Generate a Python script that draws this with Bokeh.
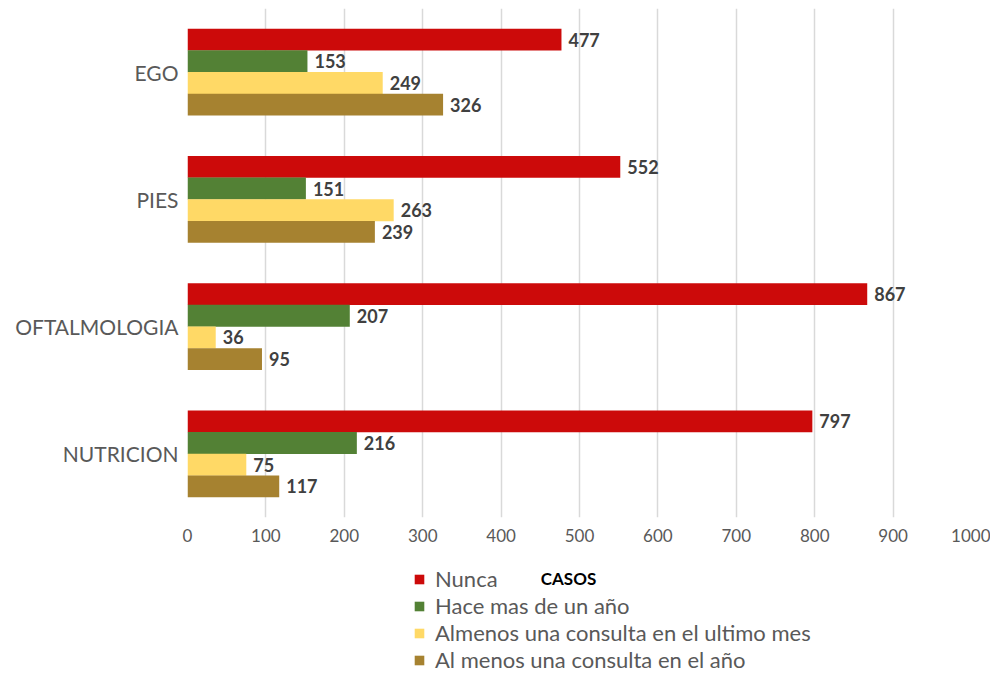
from bokeh.plotting import figure
from bokeh.models import Range1d, FactorRange, Legend, LegendItem, Label
from bokeh.layouts import column
from bokeh.transform import dodge
from bokeh.core.properties import value
from bokeh.embed import file_html
from bokeh.resources import INLINE

# ---- data ----
categories = ["NUTRICION", "OFTALMOLOGIA", "PIES", "EGO"]  # bottom -> top
series_names = ["Nunca", "Hace mas de un año",
                "Almenos una consulta en el ultimo mes",
                "Al menos una consulta en el año"]
nunca = [797, 867, 552, 477]
hace_mas = [216, 207, 151, 153]
ultimo_mes = [75, 36, 263, 249]
en_el_ano = [117, 95, 239, 326]
x_ticks = [0, 100, 200, 300, 400, 500, 600, 700, 800, 900, 1000]
x_title = "CASOS"

colors = ["#CC0A0A", "#538135", "#FFD966", "#A68230"]
offsets = [0.255, 0.085, -0.085, -0.255]
FONT = "Lato"

p = figure(width=990, height=560, output_backend="svg", toolbar_location=None,
           y_range=FactorRange(*categories, range_padding=0),
           x_range=Range1d(0, 1000),
           min_border_left=187, min_border_right=19, min_border_top=8,
           min_border_bottom=43)
p.outline_line_color = None
p.background_fill_color = "white"
p.border_fill_color = "white"

data = dict(cat=categories, s0=nunca, s1=hace_mas, s2=ultimo_mes, s3=en_el_ano)
data.update({f"t{i}": [str(v) for v in data[f"s{i}"]] for i in range(4)})

for i, (name, col, off) in enumerate(zip(series_names, colors, offsets)):
    p.hbar(y=dodge("cat", off, range=p.y_range), right=f"s{i}", left=0,
           height=0.172, source=data, fill_color=col, line_color=None)
    p.text(x=f"s{i}", y=dodge("cat", off, range=p.y_range), text=f"t{i}",
           source=data, x_offset=7, text_baseline="middle", text_align="left",
           text_font=value(FONT), text_font_style="bold",
           text_font_size="18px", text_color="#404040")

# axes
p.xaxis.ticker = x_ticks
p.xaxis.axis_line_color = None
p.xaxis.major_tick_line_color = None
p.xaxis.minor_tick_line_color = None
p.xaxis.major_label_text_font = FONT
p.xaxis.major_label_text_font_size = "17px"
p.xaxis.major_label_text_color = "#595959"
p.xaxis.major_label_standoff = 5

p.yaxis.axis_line_color = None
p.yaxis.major_tick_line_color = None
p.yaxis.minor_tick_line_color = None
p.yaxis.major_label_text_font = FONT
p.yaxis.major_label_text_font_size = "21px"
p.yaxis.major_label_text_color = "#595959"
p.yaxis.major_label_standoff = 3

p.ygrid.grid_line_color = None
p.xgrid.grid_line_color = "#D9D9D9"
p.xgrid.grid_line_width = 1.5

# ---- legend strip (second figure, frame aligned with the chart's frame) ----
q = figure(width=990, height=116, output_backend="svg", toolbar_location=None,
           x_range=Range1d(0, 1), y_range=Range1d(0, 1),
           x_axis_location=None, y_axis_location=None, min_border=0)
q.outline_line_color = None
q.grid.visible = False
q.background_fill_color = "white"
q.border_fill_color = "white"

# legend swatches: zero-width one-row bars (nothing visible in the strip)
items = []
for name, col in zip(series_names, colors):
    r = q.hbar(y=[0.5], right=[0], left=[0], height=0.0,
               fill_color=col, line_color=None)
    items.append(LegendItem(label=name, renderers=[r]))

lg = Legend(items=items, location=(226, 3), orientation="vertical",
            padding=0, margin=0, spacing=0, label_height=23,
            glyph_width=12, glyph_height=12, label_standoff=10,
            label_text_font=FONT, label_text_font_size="22px",
            label_text_color="#595959", border_line_color=None,
            background_fill_alpha=0)
q.add_layout(lg)

q.add_layout(Label(x=381, y=98, x_units="screen", y_units="screen", text=x_title,
                   text_align="center", text_baseline="middle",
                   text_font=FONT, text_font_style="bold", text_font_size="17px",
                   text_color="#000000"))

open("out.html", "w").write(file_html(column(p, q, spacing=0), INLINE))
